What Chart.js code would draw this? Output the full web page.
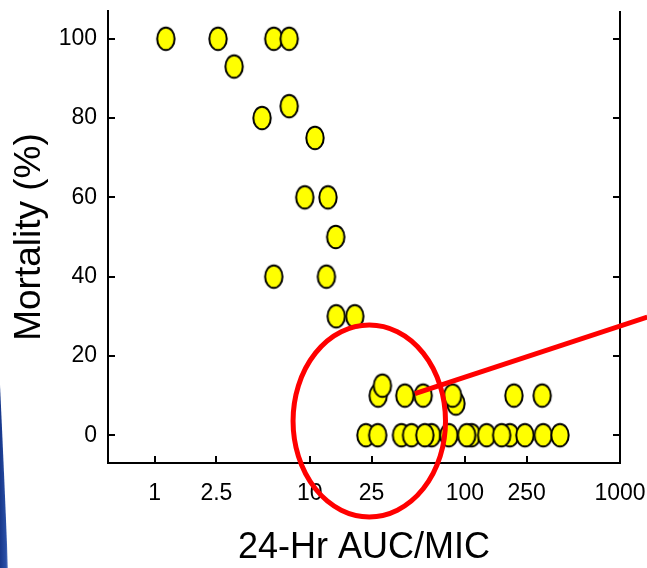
<!DOCTYPE html>
<html>
<head>
<meta charset="utf-8">
<script src="https://cdn.jsdelivr.net/npm/chart.js@4.4.0/dist/chart.umd.min.js"></script>
<style>
    html, body { margin: 0; padding: 0; background: #fff; }
    #wrap { width: 647px; height: 568px; }
</style>
</head>
<body>
<div id="wrap"><canvas id="scatterChart" width="647" height="568"></canvas></div>
<script>
// Values (x = 24-Hr AUC/MIC, y = mortality %)
const aucMic = [
    1.18, 2.56, 3.25, 4.92, 5.86, 7.36, 7.36, 10.8, 9.28, 13.1, 14.7, 12.8, 5.86, 14.8, 19.5,
    27.6, 29.4, 41.0, 53.8, 87.5, 83.3, 207, 315,
    23.0, 27.4, 39.0, 45.3, 61.0, 55.2, 78.8, 110.5, 102.6, 138, 195, 172.6, 243.8, 320, 410
];
const mortality = [
    100, 100, 93, 80, 100, 100, 83, 75, 60, 60, 50, 40, 40, 30, 30,
    10, 12.5, 10, 10, 8, 10, 10, 10,
    0, 0, 0, 0, 0, 0, 0, 0, 0, 0, 0, 0, 0, 0, 0
];
const xTickValues = [1, 2.5, 10, 25, 100, 250, 1000];
const yTickValues = [0, 20, 40, 60, 80, 100];

// Red highlight ring and pointer, in data units
const ringBounds = { xMin: 7.8, xMax: 75, yMin: -20.6, yMax: 27.8 };
const pointerFrom = { x: 47.6, y: 10.5 };
const pointerTo = { x: 1500, y: 29.8 };

const FONT = '"Liberation Sans", Arial, Helvetica, sans-serif';

// yellow oval marker with black outline
function makeMarker() {
    const c = document.createElement('canvas');
    c.width = 22;
    c.height = 28;
    const ctx = c.getContext('2d');
    ctx.beginPath();
    ctx.ellipse(11, 14, 8.7, 11.3, 0, 0, Math.PI * 2);
    ctx.fillStyle = '#ffff00';
    ctx.fill();
    ctx.lineWidth = 2;
    ctx.strokeStyle = '#000';
    ctx.stroke();
    return c;
}

const framePlugin = {
    id: 'frame',
    beforeDraw(chart) {
        // blue slide swoosh at the bottom-left edge
        const ctx = chart.ctx;
        ctx.save();
        const g = ctx.createLinearGradient(0, 0, 9, 0);
        g.addColorStop(0, '#17378a');
        g.addColorStop(0.7, '#2a50a8');
        g.addColorStop(1, 'rgba(120,150,210,0.4)');
        ctx.beginPath();
        ctx.moveTo(0, 385);
        ctx.quadraticCurveTo(4, 470, 8, 568);
        ctx.lineTo(0, 568);
        ctx.closePath();
        ctx.fillStyle = g;
        ctx.fill();
        ctx.restore();
    },
    afterDraw(chart) {
        const ctx = chart.ctx;
        const xs = chart.scales.x;
        const ys = chart.scales.y;
        const a = chart.chartArea;
        ctx.save();
        ctx.strokeStyle = '#000';
        ctx.lineWidth = 2;
        ctx.beginPath();
        // right frame line
        ctx.moveTo(a.right, a.top);
        ctx.lineTo(a.right, a.bottom + 1);
        // inward tick marks
        xTickValues.forEach(v => {
            if (v >= xs.max) return;
            const px = Math.round(xs.getPixelForValue(v));
            ctx.moveTo(px, a.bottom);
            ctx.lineTo(px, a.bottom - 7);
        });
        yTickValues.forEach(v => {
            const py = Math.round(ys.getPixelForValue(v));
            ctx.moveTo(a.left, py);
            ctx.lineTo(a.left + 7, py);
            ctx.moveTo(a.right, py);
            ctx.lineTo(a.right - 7, py);
        });
        ctx.stroke();

        // red ring + pointer line
        const x1 = xs.getPixelForValue(ringBounds.xMin);
        const x2 = xs.getPixelForValue(ringBounds.xMax);
        const y1 = ys.getPixelForValue(ringBounds.yMax);
        const y2 = ys.getPixelForValue(ringBounds.yMin);
        ctx.strokeStyle = '#ff0000';
        ctx.lineWidth = 5;
        ctx.beginPath();
        ctx.ellipse((x1 + x2) / 2, (y1 + y2) / 2, Math.abs(x2 - x1) / 2, Math.abs(y2 - y1) / 2, 0, 0, Math.PI * 2);
        ctx.stroke();
        ctx.beginPath();
        ctx.moveTo(xs.getPixelForValue(pointerFrom.x), ys.getPixelForValue(pointerFrom.y));
        ctx.lineTo(xs.getPixelForValue(pointerTo.x), ys.getPixelForValue(pointerTo.y));
        ctx.stroke();
        ctx.restore();
    }
};

const marker = makeMarker();

new Chart(document.getElementById('scatterChart').getContext('2d'), {
    type: 'scatter',
    data: {
        datasets: [{
            label: 'Mortality',
            data: aucMic.map((x, i) => ({ x: x, y: mortality[i] })),
            pointStyle: marker,
            pointRadius: 10,
            pointHoverRadius: 10
        }]
    },
    options: {
        responsive: false,
        animation: false,
        devicePixelRatio: 1,
        layout: { padding: { left: 0, top: 9, right: 27, bottom: 0 } },
        plugins: {
            legend: { display: false },
            tooltip: { enabled: false }
        },
        scales: {
            x: {
                type: 'logarithmic',
                min: 0.5,
                max: 1000,
                afterBuildTicks: scale => {
                    scale.ticks = xTickValues.map(v => ({ value: v }));
                },
                afterFit: scale => {
                    scale.height = 105;
                    scale.paddingLeft = 0;
                    scale.paddingRight = 0;
                },
                grid: { display: false, drawTicks: false },
                border: { display: true, color: '#000', width: 2 },
                ticks: {
                    autoSkip: false,
                    maxRotation: 0,
                    padding: 17,
                    color: '#000',
                    font: { family: FONT, size: 23 },
                    callback: value => String(value)
                },
                title: {
                    display: true,
                    text: '24-Hr AUC/MIC',
                    color: '#000',
                    padding: { top: 0, bottom: 0 },
                    font: { family: FONT, size: 36, lineHeight: 1.1 }
                }
            },
            y: {
                min: -7,
                max: 107,
                afterBuildTicks: scale => {
                    scale.ticks = yTickValues.map(v => ({ value: v }));
                },
                afterFit: scale => {
                    scale.width = 108;
                    scale.paddingTop = 0;
                    scale.paddingBottom = 0;
                },
                grid: { display: false, drawTicks: false },
                border: { display: true, color: '#000', width: 2 },
                ticks: {
                    padding: 11,
                    color: '#000',
                    font: { family: FONT, size: 23 }
                },
                title: {
                    display: true,
                    text: 'Mortality (%)',
                    color: '#000',
                    padding: { top: 8, bottom: 0 },
                    font: { family: FONT, size: 37, lineHeight: 1.2 }
                }
            }
        }
    },
    plugins: [framePlugin]
});
</script>
</body>
</html>
